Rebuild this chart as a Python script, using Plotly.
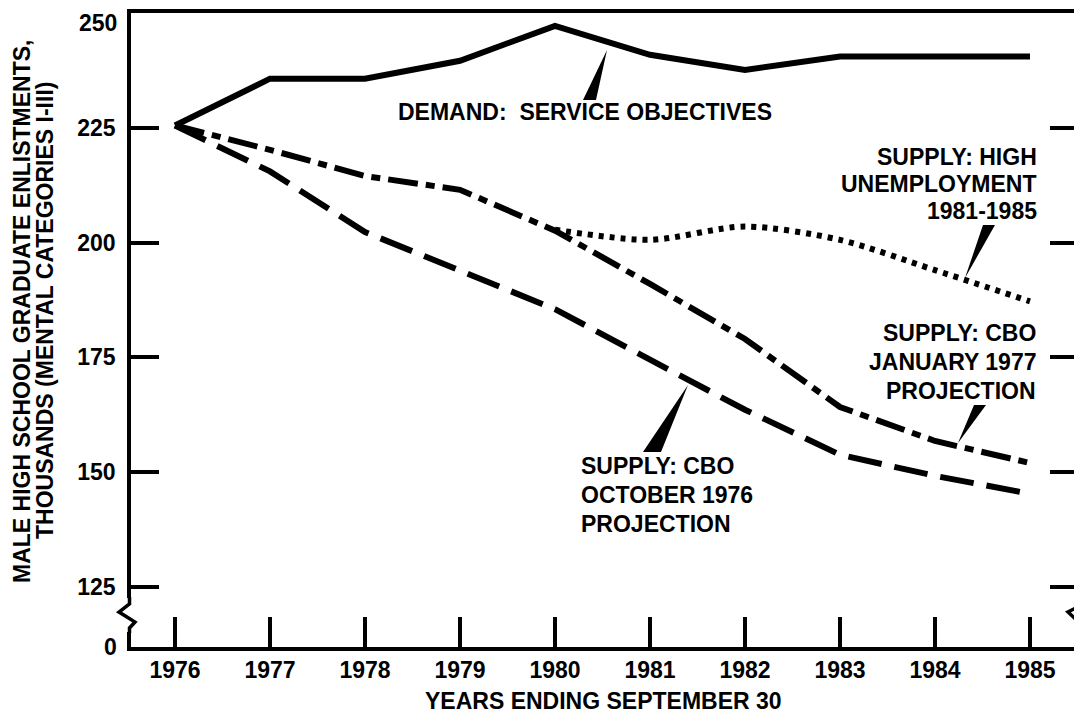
import plotly.graph_objects as go

# ---------------- data (thousands) ----------------
years = [1976, 1977, 1978, 1979, 1980, 1981, 1982, 1983, 1984, 1985]
demand = [225.5, 235.7, 235.7, 239.6, 247.2, 240.9, 237.6, 240.5, 240.5, 240.5]
supply_jan77 = [225.5, 220.2, 214.5, 211.5, 202.6, 191.0, 179.0, 164.2, 156.8, 152.0]
supply_oct76 = [225.5, 215.5, 202.3, 194.0, 185.5, 174.5, 163.6, 153.8, 149.2, 145.3]
high_unemp_years = [1980, 1981, 1982, 1983, 1984, 1985]
high_unemp = [202.8, 200.6, 203.5, 200.6, 194.0, 187.2]

y_tick_vals = [125, 150, 175, 200, 225, 250]
y_tick_text = ["125", "150", "175", "200", "225", ""]   # "250" drawn as annotation

# ---------------- layout geometry (page pixels) ----------------
PAGE_W, PAGE_H = 1082, 724
OFF = 8                                    # default body margin of the page
W, H = PAGE_W - OFF, PAGE_H - OFF
L, R, T, B = 131, 1078, 13, 647            # plot area in page pixels
PW, PH = R - L, B - T
XR = [1975.5368, 1975.5368 + PW / 95.0]
Y_BOTTOM = 111.93                          # axis bottom, labelled "0" (broken axis)
YR = [Y_BOTTOM, 250]

def px(x):
    return (x - L) / PW

def py(y):
    return (B - y) / PH

FONT = "Liberation Sans, Arial, Helvetica, sans-serif"
FS = 23
INK = "black"
TF = dict(family=FONT, size=FS, color=INK, weight="bold")

fig = go.Figure()

fig.add_trace(go.Scatter(x=years, y=demand, mode="lines",
                         line=dict(color=INK, width=6), showlegend=False))
fig.add_trace(go.Scatter(x=years, y=supply_jan77, mode="lines",
                         line=dict(color=INK, width=6, dash="30px,8px,9px,8px"),
                         showlegend=False))
fig.add_trace(go.Scatter(x=years, y=supply_oct76, mode="lines",
                         line=dict(color=INK, width=6, dash="34px,13px"),
                         showlegend=False))
fig.add_trace(go.Scatter(x=high_unemp_years, y=high_unemp, mode="lines",
                         line=dict(color=INK, width=6, dash="5px,6px", shape="spline",
                                   smoothing=0.8),
                         showlegend=False))

# ---------------- annotations ----------------
ann = []
def text(t, x, y, anchor, angle=0, yanchor="middle"):
    ann.append(dict(text=t, x=px(x), y=py(y), xref="paper", yref="paper",
                    xanchor=anchor, yanchor=yanchor, showarrow=False,
                    textangle=angle, font=TF, borderpad=0))

text("DEMAND:&nbsp; SERVICE OBJECTIVES", 397, 112, "left")
for t, y in zip(["SUPPLY: HIGH", "UNEMPLOYMENT", "1981-1985"], [157, 184, 211]):
    text(t, 1038, y, "right")
for t, y in zip(["SUPPLY: CBO", "JANUARY 1977", "PROJECTION"], [333, 362, 391]):
    text(t, 1037, y, "right")
for t, y in zip(["SUPPLY: CBO", "OCTOBER 1976", "PROJECTION"], [466, 495, 524]):
    text(t, 580, y, "left")

text("YEARS ENDING SEPTEMBER 30", 603, 701, "center")
for t, x in zip(["MALE HIGH SCHOOL GRADUATE ENLISTMENTS,",
                 "THOUSANDS (MENTAL CATEGORIES I-III)"], [22, 45]):
    text(t, x, 311, "center", angle=-90)
# labels at the ends of the broken axis
text("0", 118, 647, "right")
text("250", 118, 9, "right", yanchor="top")

# ---------------- shapes: pointer wedges & axis breaks ----------------
shapes = []
def path(points, close=True, fill=True, width=0):
    d = "M " + " L ".join(f"{px(a):.5f},{py(b):.5f}" for a, b in points)
    if close:
        d += " Z"
    s = dict(type="path", path=d, xref="paper", yref="paper", layer="above",
             line=dict(color=INK if width else "rgba(0,0,0,0)", width=width))
    if fill:
        s["fillcolor"] = INK
    shapes.append(s)

# wedges (base near text, tip at curve)
path([(583, 100), (596, 100), (607, 50)])
path([(983, 225), (995, 225), (965, 278)])
path([(974, 405), (986, 405), (958, 443)])
path([(643, 452), (661, 452), (688, 385)])

# axis breaks: white-out then zig-zag
for x0, x1 in [(110, 142), (1062, 1085)]:
    shapes.append(dict(type="rect", x0=px(x0), x1=px(x1), y0=py(598), y1=py(632),
                       xref="paper", yref="paper", layer="above",
                       fillcolor="white", line=dict(width=0)))
path([(129.5, 597), (129.5, 604), (119, 612), (135, 622), (129.5, 628), (129.5, 633)],
     close=False, fill=False, width=3.5)
path([(1079.5, 597), (1079.5, 606), (1068, 612), (1080, 623), (1078, 628), (1079.5, 633)],
     close=False, fill=False, width=3.5)

fig.update_layout(
    width=W, height=H,
    margin=dict(l=L - OFF, r=PAGE_W - R, t=T - OFF, b=PAGE_H - B, pad=0),
    paper_bgcolor="white", plot_bgcolor="white",
    font=TF,
    annotations=ann, shapes=shapes,
    xaxis=dict(range=XR, tickvals=years, ticktext=[str(y) for y in years],
               ticks="inside", ticklen=30, tickwidth=3.5, tickcolor=INK,
               showline=True, linecolor=INK, linewidth=3.5, mirror=True,
               showgrid=False, zeroline=False, ticklabelstandoff=0,
               tickfont=TF, automargin=False),
    yaxis=dict(range=YR, tickvals=y_tick_vals, ticktext=y_tick_text,
               ticks="inside", ticklen=28, tickwidth=3.5, tickcolor=INK,
               showline=True, linecolor=INK, linewidth=3.5, mirror="ticks",
               showgrid=False, zeroline=False, ticklabelstandoff=7,
               tickfont=TF, automargin=False),
)

fig.write_html("out.html")
